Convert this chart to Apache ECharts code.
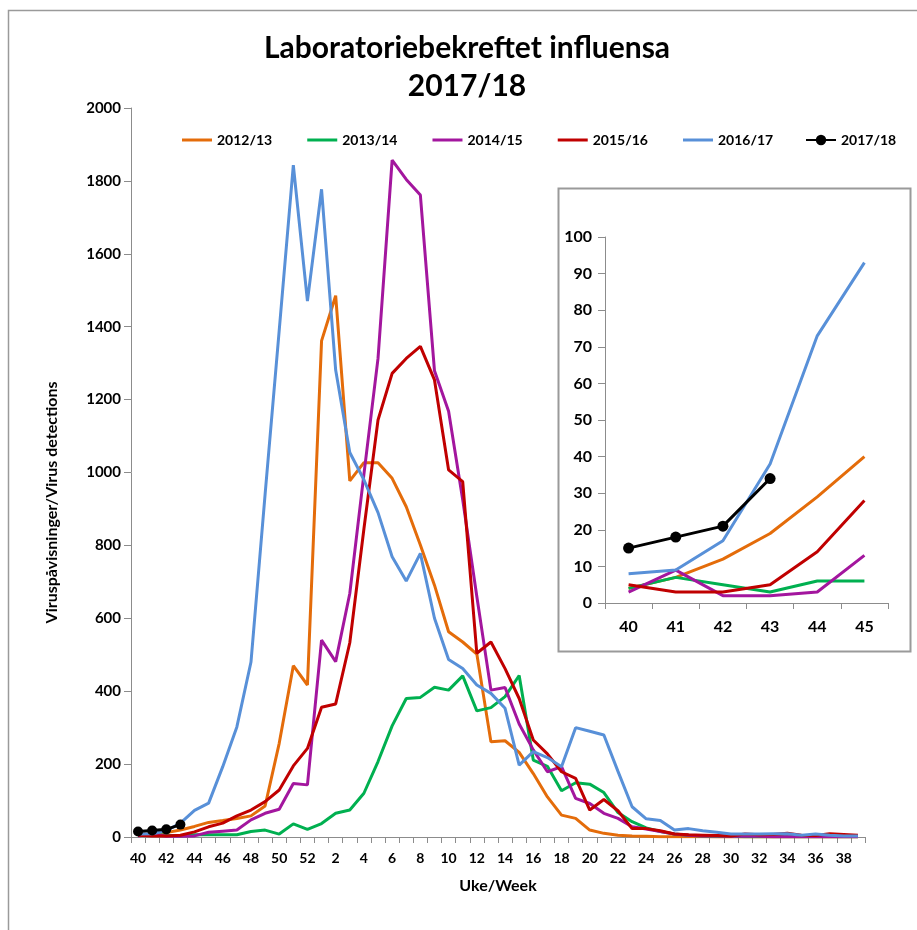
<!DOCTYPE html>
<html>
<head>
<meta charset="utf-8">
<script src="https://cdn.jsdelivr.net/npm/echarts@6/dist/echarts.min.js"></script>
<style>html,body{margin:0;padding:0;background:#fff}#c{width:917px;height:930px}</style>
</head>
<body>
<div id="c"></div>
<script>
const weeks = ['40','41','42','43','44','45','46','47','48','49','50','51','52',
  '1','2','3','4','5','6','7','8','9','10','11','12','13','14','15','16','17','18','19','20',
  '21','22','23','24','25','26','27','28','29','30','31','32','33','34','35','36','37','38','39'];
const insetWeeks = ['40','41','42','43','44','45'];
const yTicks = [0, 2000, 200];
const insetTicks = [0, 100, 10];

const s2012 = [4,7,12,19,29,40,45,51,58,85,257,470,417,
  1361,1485,977,1027,1027,984,906,801,691,563,535,502,261,264,232,174,110,60,51,19,
  10,5,3,2,1,1,1,1,0,0,0,0,0,0,0,0,0,0,0];
const s2013 = [4,7,5,3,6,6,6,6,15,19,8,36,21,
  37,65,74,120,207,305,380,383,411,403,442,346,355,385,443,211,194,127,149,145,
  122,67,42,25,15,8,5,3,2,2,1,1,1,1,1,1,1,1,1];
const s2014 = [3,9,2,2,3,13,16,19,47,65,76,147,143,
  540,481,668,995,1313,1857,1804,1761,1279,1168,925,660,403,410,310,239,179,193,106,92,
  65,51,28,22,15,8,5,3,3,2,2,2,1,1,1,1,1,1,1];
const s2015 = [5,3,3,5,14,28,38,58,74,97,129,195,243,
  356,365,533,845,1144,1272,1313,1346,1254,1007,975,504,535,462,380,266,228,179,161,74,
  103,72,23,23,17,8,6,5,4,3,8,6,7,10,5,4,9,7,5];
const s2016 = [8,9,17,38,73,93,193,302,480,940,1390,1843,1470,
  1777,1281,1055,980,890,769,702,778,600,487,462,417,394,353,197,234,218,193,300,290,
  280,180,83,50,45,19,23,17,13,8,8,8,9,9,5,8,5,3,3];
const s2017 = [15,18,21,34];

const names = ['2012/13','2013/14','2014/15','2015/16','2016/17','2017/18'];
const colors = ['#E46C0A','#00B050','#A3169E','#C00000','#5890D8','#000000'];
const allData = [s2012, s2013, s2014, s2015, s2016, s2017];

const FONT = 'Lato';
const series = [];
allData.forEach((d, k) => {
  const black = k === 5;
  series.push({
    name: names[k], type: 'line', xAxisIndex: 0, yAxisIndex: 0, data: d,
    symbol: black ? 'circle' : 'none', symbolSize: 10, showSymbol: black, showAllSymbol: true,
    lineStyle: {width: 3, color: colors[k]}, itemStyle: {color: colors[k]},
    emphasis: {disabled: true}, animation: false, z: 2 + k
  });
});
allData.forEach((d, k) => {
  const black = k === 5;
  series.push({
    name: names[k], type: 'line', xAxisIndex: 1, yAxisIndex: 1, data: d.slice(0, 6),
    symbol: black ? 'circle' : 'none', symbolSize: 11, showSymbol: black, showAllSymbol: true,
    lineStyle: {width: 3, color: colors[k]}, itemStyle: {color: colors[k]},
    emphasis: {disabled: true}, animation: false, z: 10 + k
  });
});

const legendText = {fontFamily: FONT, fontWeight: 'bold', fontSize: 14, color: '#000'};
const chart = echarts.init(document.getElementById('c'), null, {renderer: 'canvas'});
chart.setOption({
  backgroundColor: '#fff',
  animation: false,
  textStyle: {fontFamily: FONT},
  title: {
    text: 'Laboratoriebekreftet influensa\n2017/18',
    left: 462, top: 24, textAlign: 'center',
    textStyle: {fontFamily: FONT, fontWeight: 'bold', fontSize: 30, lineHeight: 38, color: '#000'}
  },
  legend: [
    {data: names.slice(0, 5), left: 177, top: 128, icon: 'rect', itemWidth: 30, itemHeight: 3, itemGap: 35,
      textStyle: legendText, selectedMode: false},
    {data: names.slice(5), left: 800, top: 128, itemWidth: 30, itemHeight: 13,
      textStyle: legendText, selectedMode: false}
  ],
  graphic: [
    {type: 'rect', z: -1, shape: {x: 8.5, y: 10.5, width: 1000, height: 1000},
      style: {fill: 'none', stroke: '#9a9a9a', lineWidth: 1.5}},
    {type: 'rect', z: -1, shape: {x: 558.5, y: 188.5, width: 352, height: 463},
      style: {fill: 'none', stroke: '#9a9a9a', lineWidth: 2}}
  ],
  grid: [
    {left: 131, right: 52, top: 108, bottom: 93},
    {left: 605, right: 29, top: 237, bottom: 327}
  ],
  xAxis: [
    {type: 'category', gridIndex: 0, data: weeks, boundaryGap: true,
      name: 'Uke/Week', nameLocation: 'middle', nameGap: 41,
      nameTextStyle: {fontFamily: FONT, fontWeight: 'bold', fontSize: 16, color: '#000'},
      axisLine: {lineStyle: {color: '#8c8c8c', width: 1}},
      axisTick: {show: true, interval: 0, length: 6, lineStyle: {color: '#8c8c8c'}},
      axisLabel: {interval: 1, margin: 14, fontFamily: FONT, fontWeight: 'bold', fontSize: 14, color: '#000'},
      splitLine: {show: false}},
    {type: 'category', gridIndex: 1, data: insetWeeks, boundaryGap: true,
      axisLine: {lineStyle: {color: '#8c8c8c', width: 1}},
      axisTick: {show: true, interval: 0, length: 6, lineStyle: {color: '#8c8c8c'}},
      axisLabel: {interval: 0, margin: 16, fontFamily: FONT, fontWeight: 'bold', fontSize: 16, color: '#000'},
      splitLine: {show: false}}
  ],
  yAxis: [
    {type: 'value', gridIndex: 0, min: yTicks[0], max: yTicks[1], interval: yTicks[2],
      name: 'Viruspåvisninger/Virus detections', nameLocation: 'middle', nameGap: 71,
      nameTextStyle: {fontFamily: FONT, fontWeight: 'bold', fontSize: 16, color: '#000', padding: [0, 60, 0, 0]},
      axisLine: {show: true, lineStyle: {color: '#8c8c8c', width: 1}},
      axisTick: {show: true, length: 7, lineStyle: {color: '#8c8c8c'}},
      axisLabel: {margin: 10, fontFamily: FONT, fontWeight: 'bold', fontSize: 15, color: '#000',
        formatter: v => String(v)},
      splitLine: {show: false}},
    {type: 'value', gridIndex: 1, min: insetTicks[0], max: insetTicks[1], interval: insetTicks[2],
      axisLine: {show: true, lineStyle: {color: '#8c8c8c', width: 1}},
      axisTick: {show: true, length: 7, lineStyle: {color: '#8c8c8c'}},
      axisLabel: {margin: 13, fontFamily: FONT, fontWeight: 'bold', fontSize: 16, color: '#000'},
      splitLine: {show: false}}
  ],
  series: series
});
</script>
</body>
</html>
